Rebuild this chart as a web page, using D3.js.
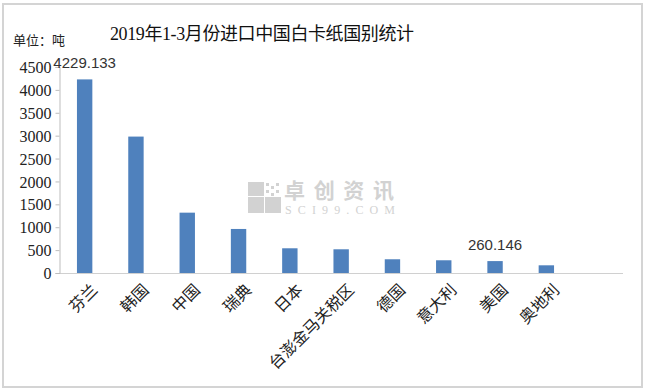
<!DOCTYPE html>
<html><head><meta charset="utf-8">
<script src="https://cdn.jsdelivr.net/npm/d3@7"></script>
<style>
html,body{margin:0;padding:0;background:#fff;}
svg{display:block;}
</style></head>
<body>
<svg id="chart" width="646" height="392"></svg>
<script>
const categories = ["芬兰","韩国","中国","瑞典","日本","台澎金马关税区","德国","意大利","美国","奥地利"];
const values = [4229.133, 2980, 1318, 962, 540, 518, 300, 278, 260.146, 168];
const yTicks = [0,500,1000,1500,2000,2500,3000,3500,4000,4500];
const labeledIdx = [0, 8];
const labelText = ["4229.133", "260.146"];
const titleText = "2019年1-3月份进口中国白卡纸国别统计";
const unitText = "单位：吨";

(function(){
const svg = d3.select("#chart");
const serif = "'Liberation Serif','Noto Sans CJK SC',serif";
const cjk = "'Noto Sans CJK SC','Liberation Serif',sans-serif";

svg.append("rect").attr("x",3).attr("y",4).attr("width",639).attr("height",383)
  .attr("fill","#fff").attr("stroke","#d4d4d4").attr("stroke-width",2);

const mLeft = 59, mBottom = 273, mTop = 67;
const x = d3.scaleBand().domain(categories).range([mLeft, mLeft + 51.3*categories.length]).paddingInner(0.7).paddingOuter(0.35);
const y = d3.scaleLinear().domain([0,4500]).range([mBottom, mTop]);

svg.append("line").attr("x1",mLeft).attr("x2",623).attr("y1",mBottom+0.5).attr("y2",mBottom+0.5)
  .attr("stroke","#d0d0d0").attr("stroke-width",1);

const yAxis = d3.axisLeft(y).tickValues(yTicks).tickSize(4).tickPadding(4).tickFormat(d3.format("d"));
const gy = svg.append("g").attr("transform",`translate(${mLeft+0.5},0)`).call(yAxis);
gy.select(".domain").attr("stroke","#bdbdbd");
gy.selectAll(".tick line").attr("stroke","#bdbdbd");
gy.selectAll(".tick text").attr("fill","#222").style("font-family",serif).style("font-size","16px").attr("dy","0.35em");

const wm = svg.append("g");
const gc = "#d2d2d2";
[[248,197,16,16],[265,197,16,16],[248,182,16,14]].forEach(r=>wm.append("rect").attr("x",r[0]).attr("y",r[1]).attr("width",r[2]).attr("height",r[3]).attr("fill",gc));
[[266,183],[271,186],[276,183],[266,190],[276,190],[271,193]].forEach(p=>wm.append("rect").attr("x",p[0]).attr("y",p[1]).attr("width",3).attr("height",3).attr("fill",gc));
wm.append("text").attr("x",284).attr("y",198).text("卓创资讯").attr("fill",gc)
  .style("font-family",cjk).style("font-size","21px").style("font-weight","bold").attr("textLength",110);
wm.append("text").attr("x",285).attr("y",214).text("SCI99.COM").attr("fill",gc)
  .style("font-family",serif).style("font-size","12px").attr("textLength",110);

svg.append("g").selectAll("rect").data(values).join("rect")
  .attr("x",(d,i)=>x(categories[i]))
  .attr("width",x.bandwidth())
  .attr("y",d=>y(d))
  .attr("height",d=>y(0)-y(d))
  .attr("fill","#4f81bd");

svg.append("g").selectAll("text").data(labeledIdx).join("text")
  .attr("x",i=>x(categories[i])+x.bandwidth()/2)
  .attr("y",i=>y(values[i])-11)
  .attr("text-anchor","middle")
  .text((i,k)=>labelText[k])
  .attr("fill","#333")
  .style("font-family","'Liberation Sans','DejaVu Sans',sans-serif").style("font-size","15px");

svg.append("g").selectAll("text").data(categories).join("text")
  .attr("transform",d=>`translate(${x(d)+x.bandwidth()/2+6},${mBottom+10}) rotate(-45)`)
  .attr("text-anchor","end")
  .attr("dy","0.7em")
  .text(d=>d)
  .attr("fill","#222")
  .style("font-family",cjk).style("font-size","16px");

svg.append("text").attr("x",262).attr("y",40).attr("text-anchor","middle").text(titleText)
  .attr("fill","#111").style("font-family",serif).style("font-size","18px").attr("textLength",304);
svg.append("text").attr("x",13).attr("y",45).text(unitText)
  .attr("fill","#222").style("font-family",cjk).style("font-size","13px");
})();
</script>
</body></html>
